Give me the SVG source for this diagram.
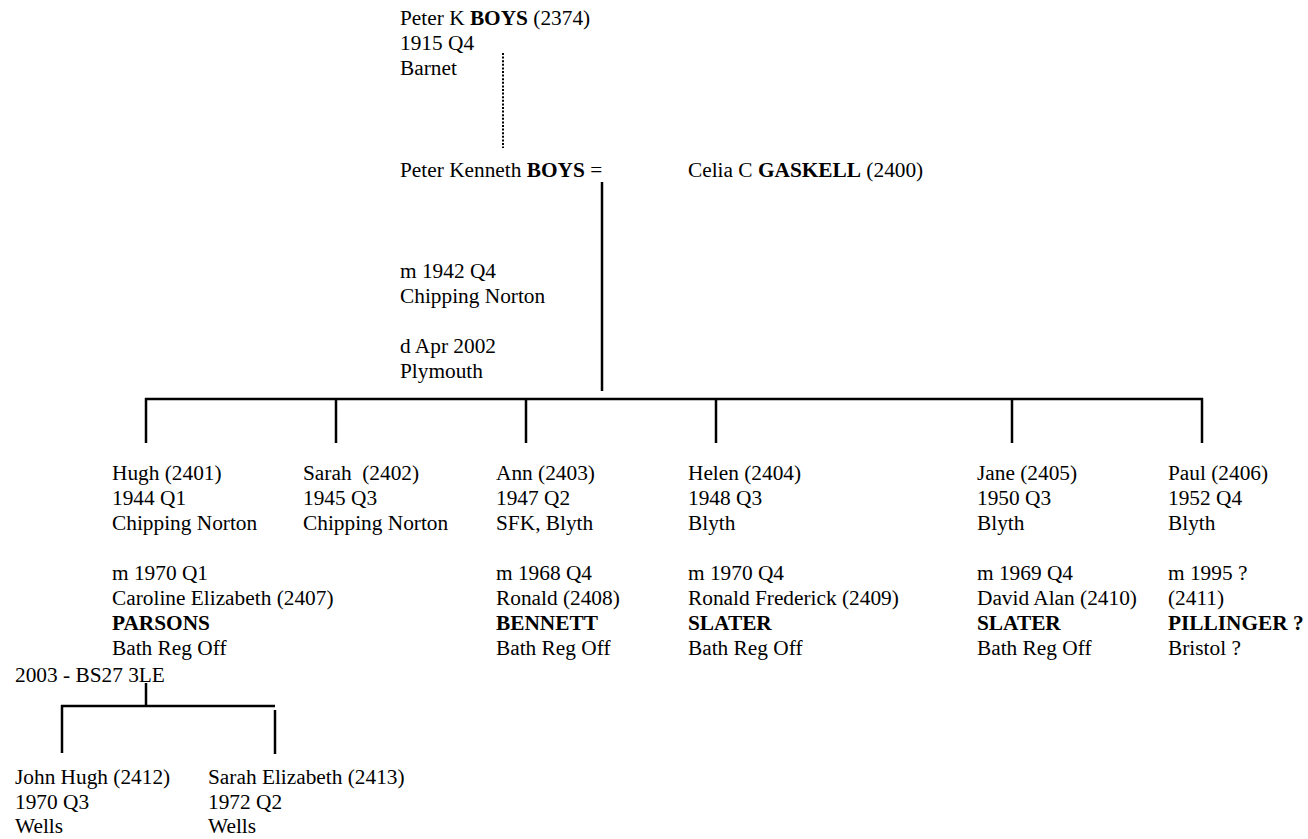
<svg xmlns="http://www.w3.org/2000/svg" width="1308" height="839" viewBox="0 0 1308 839">
<style>
text{font-family:"Liberation Serif","Times New Roman",serif;font-size:21.33px;fill:#000;white-space:pre}
.b{font-weight:bold}
.ln{stroke:#000;stroke-width:2.5;fill:none}
.dot{stroke:#000;stroke-width:2;stroke-dasharray:2 1.6;fill:none}
</style>
<rect width="1308" height="839" fill="#fff"/>
<g id="connectors">
<line class="dot" x1="503" y1="53" x2="503" y2="148"/>
<line class="ln" x1="602" y1="182" x2="602" y2="391"/>
<line class="ln" x1="145" y1="399" x2="1203" y2="399"/>
<line class="ln" x1="146" y1="398" x2="146" y2="443"/>
<line class="ln" x1="336" y1="399" x2="336" y2="443"/>
<line class="ln" x1="526" y1="399" x2="526" y2="443"/>
<line class="ln" x1="716" y1="399" x2="716" y2="443"/>
<line class="ln" x1="1012" y1="399" x2="1012" y2="443"/>
<line class="ln" x1="1202" y1="398" x2="1202" y2="443"/>
<line class="ln" x1="146" y1="683" x2="146" y2="706"/>
<line class="ln" x1="61" y1="706" x2="275" y2="706"/>
<line class="ln" x1="62" y1="705" x2="62" y2="753"/>
<line class="ln" x1="275" y1="710" x2="275" y2="754"/>
</g>
<g id="peter-k-boys">
<text x="400" y="25">Peter K <tspan class="b">BOYS</tspan> (2374)</text>
<text x="400" y="50">1915 Q4</text>
<text x="400" y="75">Barnet</text>
</g>
<g id="peter-kenneth-boys">
<text x="400" y="177">Peter Kenneth <tspan class="b">BOYS</tspan> =</text>
</g>
<g id="celia-gaskell">
<text x="688" y="177">Celia C <tspan class="b">GASKELL</tspan> (2400)</text>
</g>
<g id="marriage">
<text x="400" y="278">m 1942 Q4</text>
<text x="400" y="303">Chipping Norton</text>
<text x="400" y="353">d Apr 2002</text>
<text x="400" y="378">Plymouth</text>
</g>
<g id="hugh">
<text x="112" y="480">Hugh (2401)</text>
<text x="112" y="505">1944 Q1</text>
<text x="112" y="530">Chipping Norton</text>
<text x="112" y="580">m 1970 Q1</text>
<text x="112" y="605">Caroline Elizabeth (2407)</text>
<text x="112" y="630" class="b">PARSONS</text>
<text x="112" y="655">Bath Reg Off</text>
<text x="15" y="682">2003 - BS27 3LE</text>
</g>
<g id="sarah">
<text x="303" y="480">Sarah  (2402)</text>
<text x="303" y="505">1945 Q3</text>
<text x="303" y="530">Chipping Norton</text>
</g>
<g id="ann">
<text x="496" y="480">Ann (2403)</text>
<text x="496" y="505">1947 Q2</text>
<text x="496" y="530">SFK, Blyth</text>
<text x="496" y="580">m 1968 Q4</text>
<text x="496" y="605">Ronald (2408)</text>
<text x="496" y="630" class="b">BENNETT</text>
<text x="496" y="655">Bath Reg Off</text>
</g>
<g id="helen">
<text x="688" y="480">Helen (2404)</text>
<text x="688" y="505">1948 Q3</text>
<text x="688" y="530">Blyth</text>
<text x="688" y="580">m 1970 Q4</text>
<text x="688" y="605">Ronald Frederick (2409)</text>
<text x="688" y="630" class="b">SLATER</text>
<text x="688" y="655">Bath Reg Off</text>
</g>
<g id="jane">
<text x="977" y="480">Jane (2405)</text>
<text x="977" y="505">1950 Q3</text>
<text x="977" y="530">Blyth</text>
<text x="977" y="580">m 1969 Q4</text>
<text x="977" y="605">David Alan (2410)</text>
<text x="977" y="630" class="b">SLATER</text>
<text x="977" y="655">Bath Reg Off</text>
</g>
<g id="paul">
<text x="1168" y="480">Paul (2406)</text>
<text x="1168" y="505">1952 Q4</text>
<text x="1168" y="530">Blyth</text>
<text x="1168" y="580">m 1995 ?</text>
<text x="1168" y="605">(2411)</text>
<text x="1168" y="630" class="b">PILLINGER ?</text>
<text x="1168" y="655">Bristol ?</text>
</g>
<g id="john-hugh">
<text x="15" y="784">John Hugh (2412)</text>
<text x="15" y="809">1970 Q3</text>
<text x="15" y="833">Wells</text>
</g>
<g id="sarah-elizabeth">
<text x="208" y="784">Sarah Elizabeth (2413)</text>
<text x="208" y="809">1972 Q2</text>
<text x="208" y="833">Wells</text>
</g>
</svg>
